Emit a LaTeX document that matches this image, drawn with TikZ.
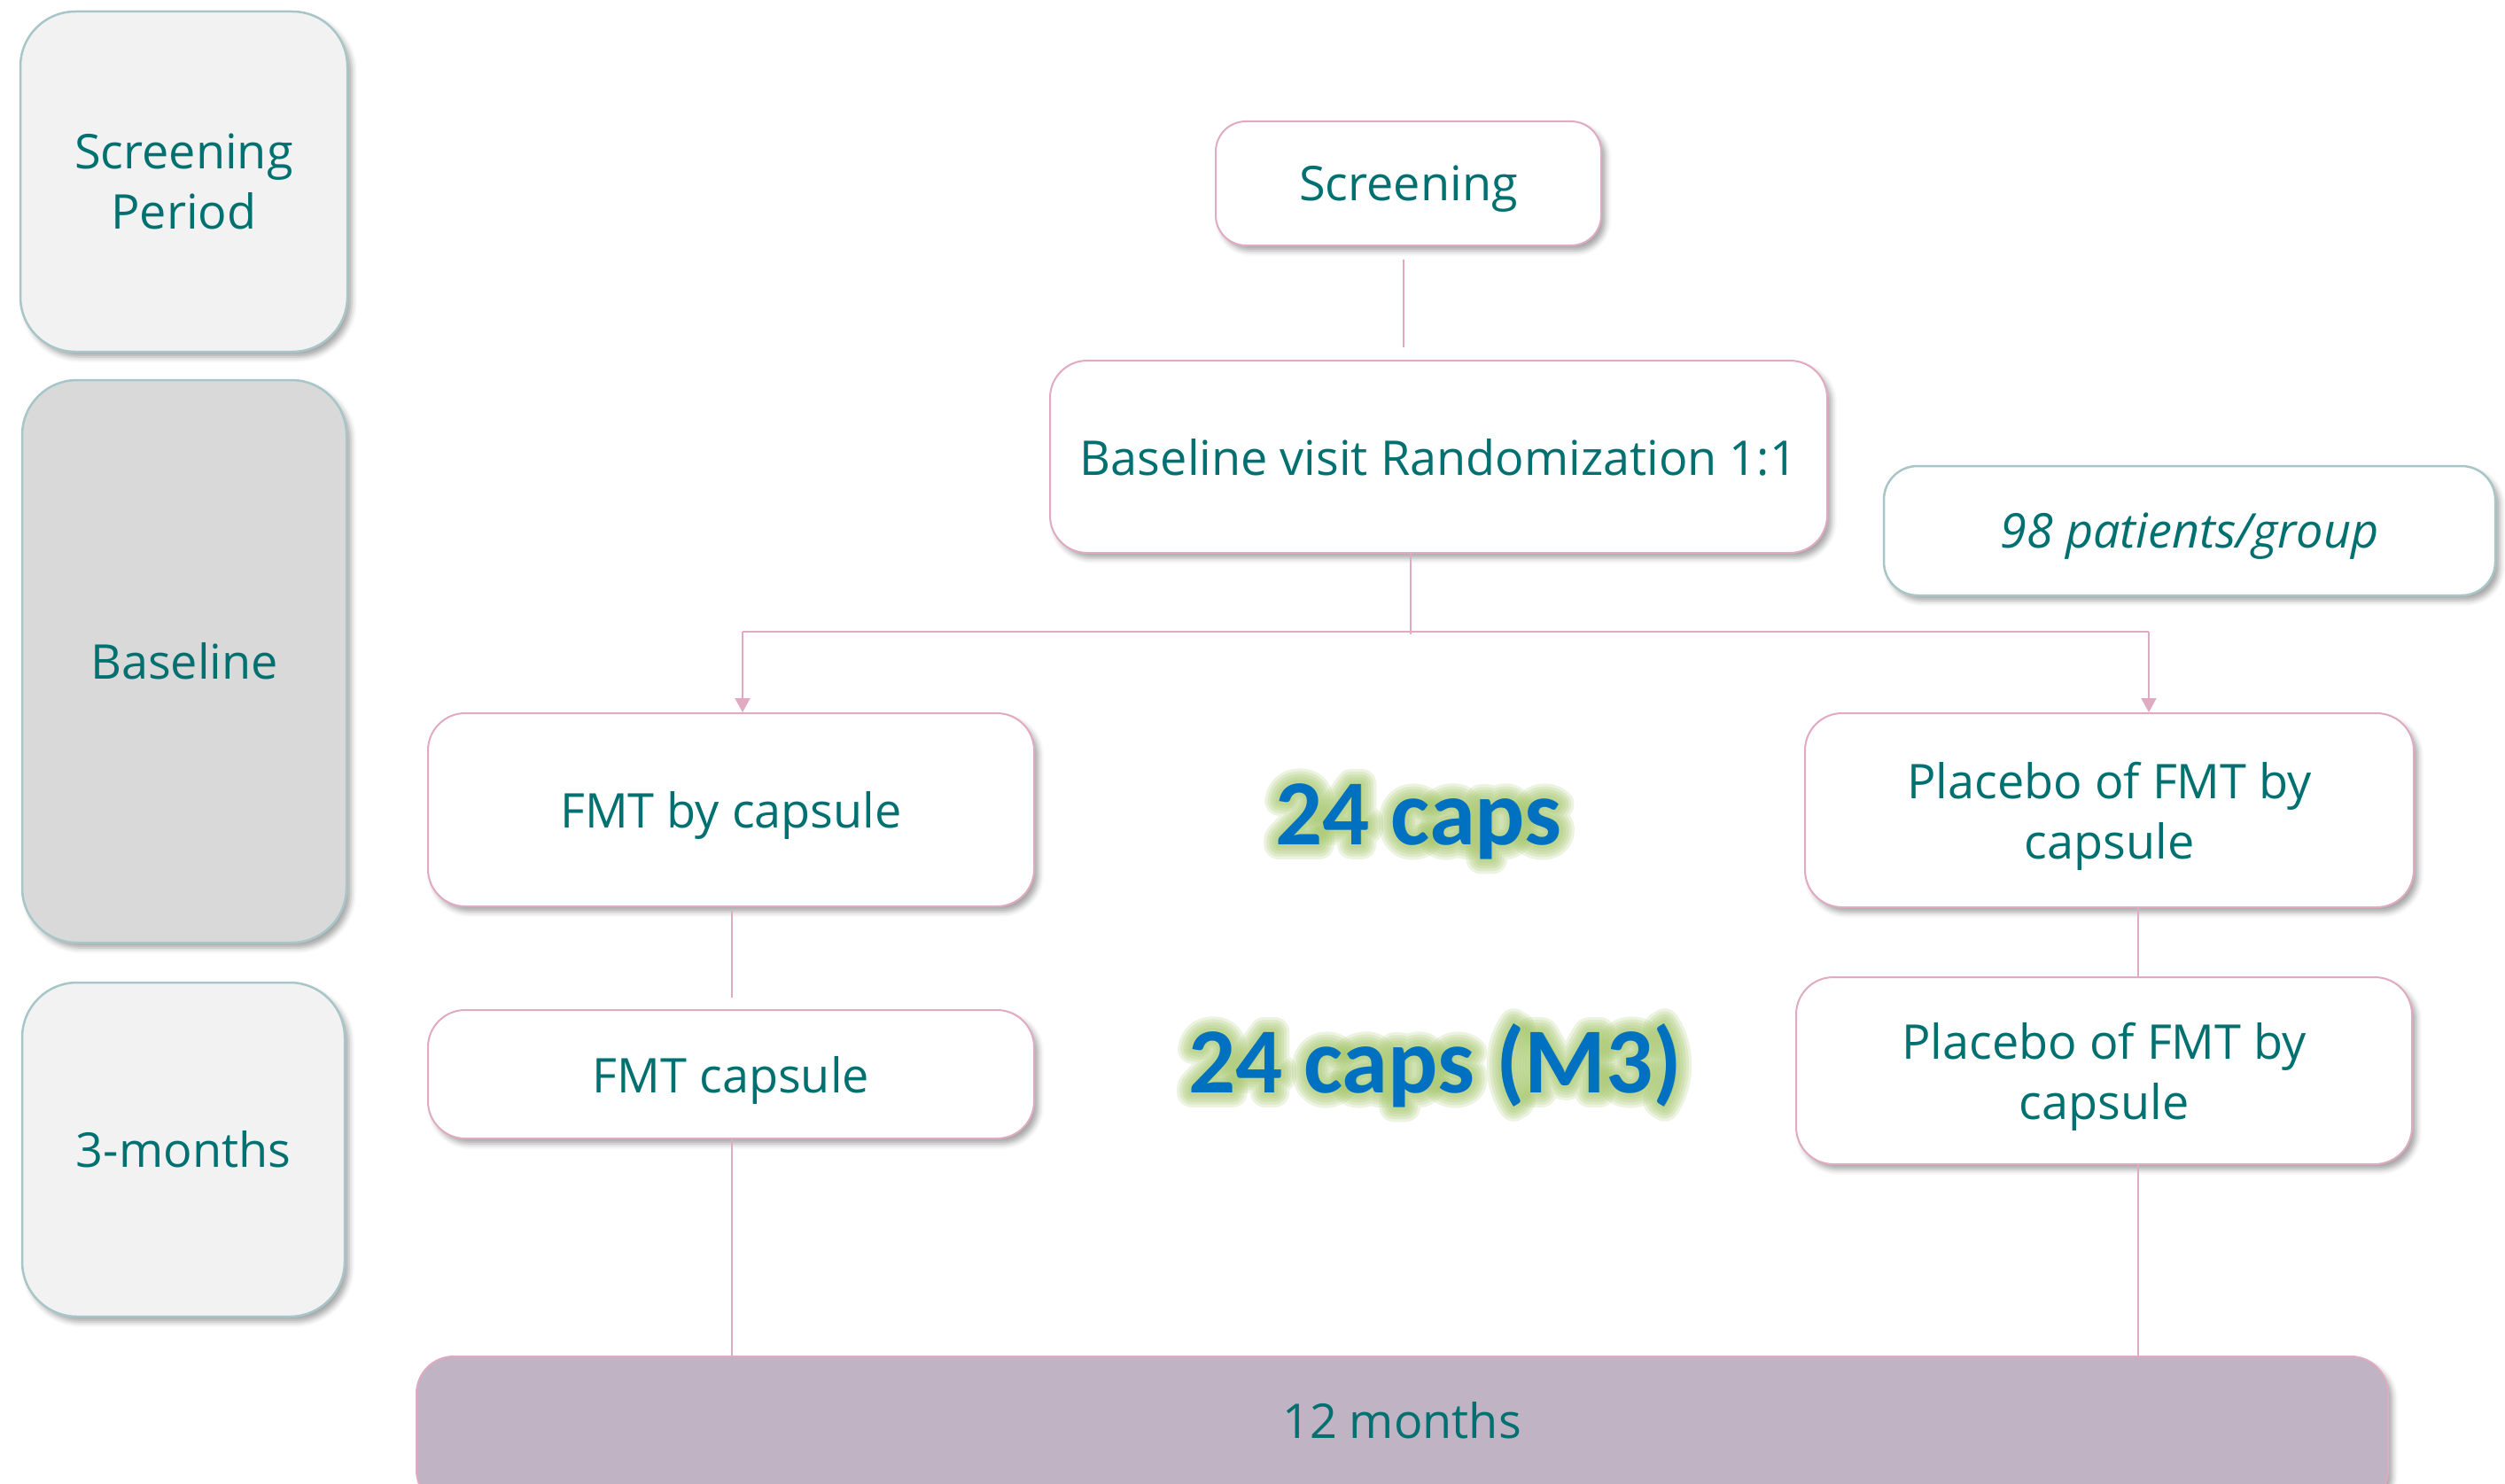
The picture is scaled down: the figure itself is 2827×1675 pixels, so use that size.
\documentclass[tikz,border=0pt]{standalone}
\usepackage{fontspec}
\setmainfont{Open Sans}
\newfontfamily\capsfont{Carlito}
\usetikzlibrary{arrows.meta,shadows.blur}

\definecolor{tealtext}{RGB}{0,112,112}
\definecolor{linkpink}{RGB}{224,170,192}
\definecolor{sideedge}{RGB}{168,198,200}
\definecolor{sidelight}{RGB}{242,242,242}
\definecolor{sidedark}{RGB}{217,217,217}
\definecolor{barfill}{RGB}{191,179,196}
\definecolor{capsblue}{RGB}{0,112,192}
\definecolor{glowgreen}{RGB}{160,195,100}

\newcommand\capsfontsetup{\capsfont\bfseries\fontsize{105}{120}\selectfont}

\tikzset{
  boxshadow/.style={blur shadow={shadow xshift=5pt, shadow yshift=-6pt,
      shadow blur radius=6pt, shadow opacity=35}},
  labeltext/.style={text=tealtext, font=\fontsize{54}{68}\selectfont, align=center},
  sidebox/.style={labeltext, draw=sideedge, line width=2.5pt,
      rounded corners=62pt, boxshadow, inner sep=0pt},
  flowbox/.style={labeltext, text depth=0pt, draw=linkpink, fill=white, line width=2pt,
      rounded corners=42pt, boxshadow, inner sep=0pt},
  notebox/.style={labeltext, text depth=0pt, draw=sideedge, fill=white, line width=2.5pt,
      rounded corners=38pt, boxshadow, inner sep=0pt},
  link/.style={draw=linkpink, line width=2.2pt},
  arrowlink/.style={link, -{Triangle[length=16pt,width=17pt]}},
  capstext/.style={font=\capsfontsetup, inner sep=0pt, anchor=base, line join=round},
}

% dosage label: stroked layers of growing width give a soft green halo
\newcommand\glowlabel[3]{%
  \foreach \w [count=\i] in {32,26,20,14,8} {
    \node[capstext, text=glowgreen, opacity=0.2,
          font={\capsfontsetup\addfontfeatures{FakeBold=\w}}] (#1-halo\i) at #2 {#3};}
  \node[capstext, text=capsblue] (#1) at #2 {#3};}

\begin{document}
\begin{tikzpicture}[x=1pt, y=-1pt]
\useasboundingbox (0,0) rectangle (2827,1675);

% period column
\node[sidebox, fill=sidelight, minimum width=369pt, minimum height=384pt]
  (screenperiod) at (207.5,205) {Screening\\Period};
\node[sidebox, fill=sidedark, minimum width=366pt, minimum height=635pt]
  (baseperiod) at (208,746.5) {Baseline};
\node[sidebox, fill=sidelight, minimum width=364pt, minimum height=377pt]
  (threeperiod) at (207,1297.5) {3-months};

% flow boxes
\node[flowbox, rounded corners=34pt, minimum width=435pt, minimum height=140pt]
  (scr) at (1589.5,207) {Screening};
\node[flowbox, minimum width=877pt, minimum height=217pt]
  (rand) at (1623.5,515.5) {Baseline visit Randomization 1:1};
\node[notebox, minimum width=690pt, minimum height=146pt]
  (pat) at (2471,599) {\itshape 98 patients/group};
\node[flowbox, minimum width=684pt, minimum height=218pt]
  (fmtone) at (825,914) {FMT by capsule};
\node[flowbox, minimum width=684pt, minimum height=145pt]
  (fmttwo) at (825,1212.5) {FMT capsule};
\node[flowbox, minimum width=687pt, minimum height=219pt]
  (plone) at (2380.5,914.5) {Placebo of FMT by\\capsule};
\node[flowbox, minimum width=695pt, minimum height=211pt]
  (pltwo) at (2374.5,1208.5) {Placebo of FMT by\\capsule};
\node[flowbox, fill=barfill, minimum width=2225pt, minimum height=170pt]
  (bar) at (1582.5,1616) {};
\node[labeltext, inner sep=0pt] (bartext) at (1582,1603) {12 months};

% dosage labels
\glowlabel{capsone}{(1601,953)}{24 caps}
\glowlabel{capstwo}{(1620,1233)}{24 caps (M3)}

% connectors
\coordinate (split) at (1592,713);
\coordinate (jl) at (838,713);
\coordinate (jr) at (2425,713);
\coordinate (lx) at (826,0);
\coordinate (rx) at (2413,0);

\draw[link] ([yshift=-15pt]scr.south -| 1584,0) -- ([yshift=14pt]rand.north -| 1584,0);
\draw[link] (rand.south -| split) -- ([yshift=-3pt]split);
\draw[link] (jl) -- (jr);
\draw[arrowlink] (jl) -- (jl |- fmtone.north);
\draw[arrowlink] (jr) -- (jr |- plone.north);
\draw[link] ([yshift=-4pt]fmtone.south -| lx) -- ([yshift=13pt]fmttwo.north -| lx);
\draw[link] (fmttwo.south -| lx) -- (bar.north -| lx);
\draw[link] (plone.south -| rx) -- (pltwo.north -| rx);
\draw[link] (pltwo.south -| rx) -- (bar.north -| rx);
\end{tikzpicture}
\end{document}
